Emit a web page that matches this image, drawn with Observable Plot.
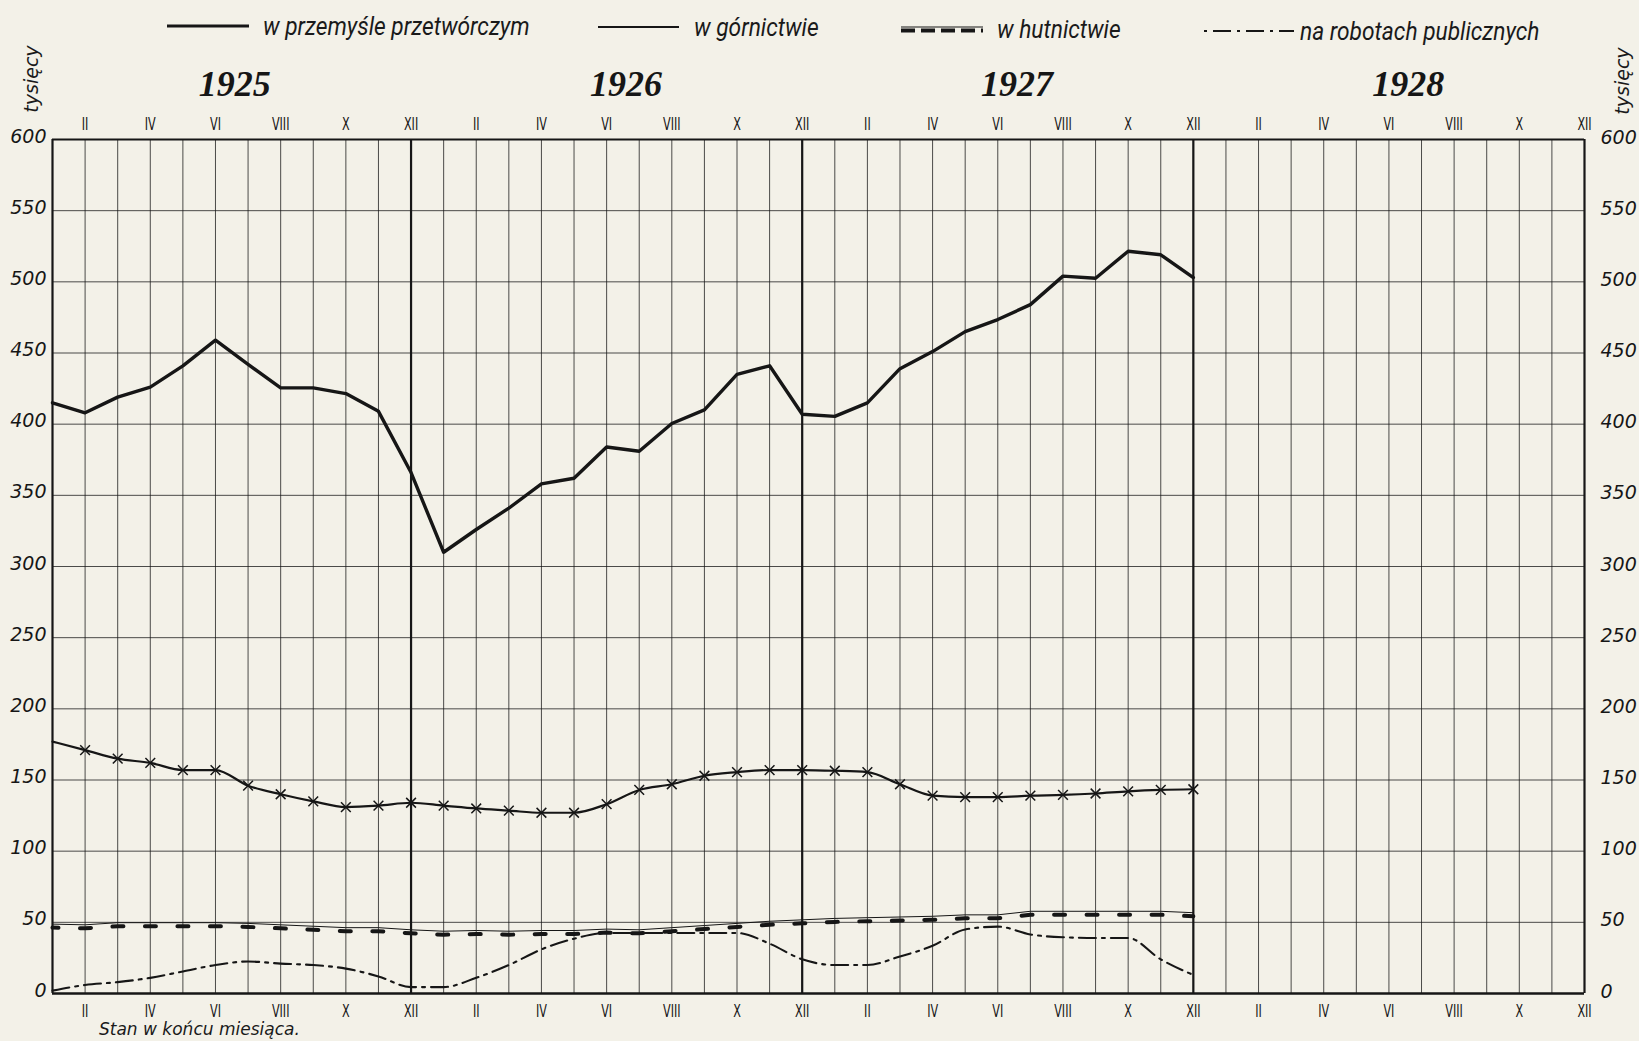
<!DOCTYPE html>
<html>
<head>
<meta charset="utf-8">
<script src="https://cdn.jsdelivr.net/npm/d3@7"></script>
<script src="https://cdn.jsdelivr.net/npm/@observablehq/plot@0.6"></script>
<style>
  html, body { margin: 0; padding: 0; background: #f3f1e8; }
  body { width: 1639px; height: 1041px; position: relative; overflow: hidden; color: #1a1a1a; }
  #legend { position: relative; height: 50px; }
  .item { position: absolute; display: flex; align-items: center; white-space: nowrap;
          font-family: "Roboto", "DejaVu Sans", sans-serif;
          font-style: italic; font-size: 25px; }
  .item svg { margin-right: 6px; overflow: visible; }
  .item span { display: inline-block; transform: scaleX(0.91); transform-origin: left center; }
  .unit { position: absolute; font-family: "DejaVu Sans", sans-serif; font-style: italic; font-size: 19px;
          transform: translate(-50%, -50%) rotate(-90deg); white-space: nowrap; }
  #chart { position: relative; }
  #caption { position: absolute; left: 99px; top: 1019px; font-family: "DejaVu Sans", sans-serif;
             font-style: italic; font-size: 17px; }
</style>
</head>
<body>
<div id="legend"></div>
<div class="unit" style="left:31px; top:79px;">tysięcy</div>
<div class="unit" style="left:1622px; top:81px;">tysięcy</div>
<div id="chart"></div>
<div id="caption">Stan w końcu miesiąca.</div>
<script>
// ---- data (thousands of workers, end of month, Jan 1925 .. Dec 1927) ----
const years = [1925, 1926, 1927, 1928];
const monthLabels = ["I", "II", "III", "IV", "V", "VI", "VII", "VIII", "IX", "X", "XI", "XII"];
const yTicks = [0, 50, 100, 150, 200, 250, 300, 350, 400, 450, 500, 550, 600];

const seriesNames = ["w przemyśle przetwórczym", "w górnictwie", "w hutnictwie", "na robotach publicznych"];

const manufacturing = [415, 408, 419, 426, 441, 459, 442, 425.5, 425.5, 421.5, 409, 366,
                       310, 326, 341, 358, 362, 384, 381, 400.5, 410, 435, 441, 407,
                       405.5, 415, 439, 451, 465, 473.5, 484, 504, 502.5, 521.5, 519, 503];
const mining = [177, 171, 165, 162, 157, 157, 146, 140, 135, 131, 132, 134,
                132, 130, 128.5, 127, 127, 133, 143, 147, 153, 155.5, 157, 157,
                156.5, 155.5, 147, 139, 138, 138, 139, 139.5, 140.5, 142, 143, 143.5];
const metallurgy = [47, 46.5, 48, 48, 48, 48, 47.5, 46.5, 45.5, 44.5, 44.5, 43,
                    42, 42.5, 42, 42.5, 42.5, 43.5, 43, 44.5, 46, 47.5, 49, 50,
                    51, 51.5, 52, 52.5, 53.5, 53.5, 56, 56, 56, 56, 56, 55];
const publicWorks = [2, 6, 8, 11, 15.5, 20, 22.5, 21, 20, 17.5, 12, 4.5,
                     4.5, 11, 20, 31, 38.5, 42.5, 42.5, 42.5, 42.5, 42.5, 35, 24,
                     20, 20, 26, 33.5, 45, 47, 41.5, 39.5, 39, 39, 24, 13];

// ---- derived tables ----
const allMonths = years.flatMap((y, yi) => monthLabels.map((m, mi) => ({year: y, label: m, i: yi * 12 + mi})));
const labelledMonths = allMonths.filter(d => (d.i % 12) % 2 === 1);
const yearEnds = allMonths.filter(d => d.i % 12 === 11).map(d => d.i);
const toRows = arr => arr.map((v, i) => ({i, v}));
const rowsMan = toRows(manufacturing), rowsMin = toRows(mining),
      rowsMet = toRows(metallurgy), rowsPub = toRows(publicWorks);
const yearRows = years.map((y, k) => ({year: y, i: k * 12 + 5.5}));

const INK = "#161616";
const monthFont = "'DejaVu Sans', sans-serif";
const numFont = "'DejaVu Sans', sans-serif";

// ---- legend ----
const legendSpec = [
  {name: seriesNames[0], left: 167, top: 26, draw: s => s.append("line").attr("x1", 0).attr("x2", 82).attr("y1", 0).attr("y2", 0).attr("stroke", INK).attr("stroke-width", 3)},
  {name: seriesNames[1], left: 598, top: 27, draw: s => s.append("line").attr("x1", 0).attr("x2", 81).attr("y1", 0).attr("y2", 0).attr("stroke", INK).attr("stroke-width", 2.2)},
  {name: seriesNames[2], left: 901, top: 29, draw: s => {
      s.append("line").attr("x1", 0).attr("x2", 82).attr("y1", -2).attr("y2", -2).attr("stroke", INK).attr("stroke-width", 1);
      s.append("line").attr("x1", 0).attr("x2", 82).attr("y1", 1.5).attr("y2", 1.5).attr("stroke", INK).attr("stroke-width", 4).attr("stroke-dasharray", "14,6");
  }},
  {name: seriesNames[3], left: 1204, top: 31, draw: s => s.append("line").attr("x1", 0).attr("x2", 90).attr("y1", 0).attr("y2", 0).attr("stroke", INK).attr("stroke-width", 2).attr("stroke-dasharray", "3,6,18,6")}
];
const legend = d3.select("#legend");
for (const it of legendSpec) {
  const div = legend.append("div").attr("class", "item").style("left", it.left + "px").style("top", (it.top - 15) + "px");
  const svg = div.append("svg").attr("width", 90).attr("height", 30).append("g").attr("transform", "translate(0,15)");
  it.draw(svg);
  div.append("span").text(it.name);
}

// ---- chart ----
const chart = Plot.plot({
  width: 1639,
  height: 975,
  marginLeft: 52,
  marginRight: 55,
  marginTop: 89,
  marginBottom: 32,
  style: {background: "transparent", color: INK},
  x: {domain: [0, 47], axis: null},
  y: {domain: [0, 600], axis: null},
  marks: [
    // grid
    Plot.ruleX(allMonths, {x: "i", stroke: INK, strokeWidth: 0.9, strokeOpacity: 0.85}),
    Plot.ruleY(yTicks, {stroke: INK, strokeWidth: 0.9, strokeOpacity: 0.85}),
    Plot.ruleX([0, ...yearEnds], {stroke: INK, strokeWidth: 2.2}),
    Plot.ruleY([0], {stroke: INK, strokeWidth: 2.6}),
    Plot.ruleY([600], {stroke: INK, strokeWidth: 2}),
    // axes
    Plot.axisY(yTicks, {anchor: "left", tickSize: 0, tickPadding: 6, dy: -3, label: null,
      fontFamily: numFont, fontStyle: "italic", fontSize: 19, fill: INK}),
    Plot.axisY(yTicks, {anchor: "right", tickSize: 0, tickPadding: 16, dy: -2, label: null,
      fontFamily: numFont, fontStyle: "italic", fontSize: 19, fill: INK}),
    Plot.axisX(labelledMonths.map(d => d.i), {anchor: "top", tickSize: 0, tickPadding: 10, label: null,
      tickFormat: i => monthLabels[i % 12], fontFamily: monthFont, fontSize: 18, fill: INK}),
    Plot.axisX(labelledMonths.map(d => d.i), {anchor: "bottom", tickSize: 0, tickPadding: 11, label: null,
      tickFormat: i => monthLabels[i % 12], fontFamily: monthFont, fontSize: 18, fill: INK}),
    // year labels
    Plot.text(yearRows, {x: "i", text: d => String(d.year), frameAnchor: "top", dy: -55, dx: 3,
      lineAnchor: "middle", fontFamily: "'Liberation Serif', 'DejaVu Serif', serif", fontWeight: "bold",
      fontStyle: "italic", fontSize: 36, fill: INK}),
    // series
    Plot.line(rowsPub, {x: "i", y: "v", stroke: INK, strokeWidth: 2.1, strokeDasharray: "17,6,3,6", curve: "monotone-x"}),
    Plot.line(rowsMet, {x: "i", y: "v", stroke: INK, strokeWidth: 1, dy: -2.5}),
    Plot.line(rowsMet, {x: "i", y: "v", stroke: INK, strokeWidth: 4, strokeDasharray: "11,21.5", strokeDashoffset: 5, dy: 1}),
    Plot.line(rowsMin, {x: "i", y: "v", stroke: INK, strokeWidth: 2.2, curve: "monotone-x"}),
    Plot.dot(rowsMin.filter(d => d.i > 0), {x: "i", y: "v", symbol: "times", r: 4.5, stroke: INK, strokeWidth: 1.5}),
    Plot.line(rowsMan, {x: "i", y: "v", stroke: INK, strokeWidth: 3.4, strokeLinejoin: "round"})
  ]
});
document.getElementById("chart").appendChild(chart);

// narrow the Roman month numerals like the condensed lettering of the original
d3.select(chart).selectAll('g[aria-label="x-axis tick label"] text').each(function () {
  const w = this.getComputedTextLength();
  if (w > 0) d3.select(this).attr("textLength", w * 0.62).attr("lengthAdjust", "spacingAndGlyphs");
});
</script>
</body>
</html>
